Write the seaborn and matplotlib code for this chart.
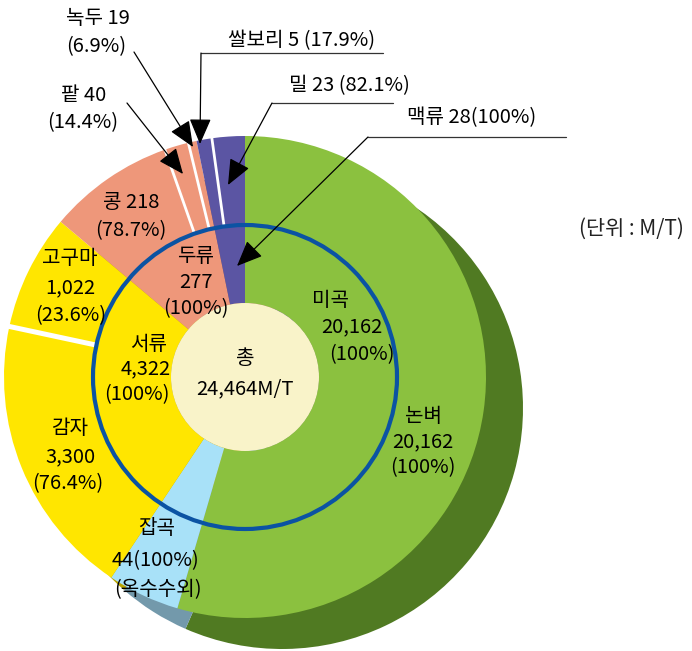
import numpy as np
import matplotlib
matplotlib.use("Agg")
import matplotlib.pyplot as plt
import seaborn as sns
from matplotlib.patches import Circle

# ---------------- data ----------------
# inner ring groups, clockwise from 12 o'clock
group_names = ["미곡", "잡곡", "서류", "두류", "맥류"]
group_values = [20162, 44, 4322, 277, 28]
group_pct = [100, 100, 100, 100, 100]
total_value = 24464

# outer ring items
sub_names = ["논벼", "잡곡", "감자", "고구마", "콩", "팥", "녹두", "쌀보리", "밀"]
sub_values = [20162, 44, 3300, 1022, 218, 40, 19, 5, 23]
sub_pct = [100, 100, 76.4, 23.6, 78.7, 14.4, 6.9, 17.9, 82.1]
sub_group = [0, 1, 2, 2, 3, 3, 3, 4, 4]
# angular width (deg) of every outer segment as drawn in the picture
sub_angle = [196.3, 17.4, 68.4, 28.0, 30.5, 5.8, 2.0, 3.7, 7.9]

group_angle = [sum(a for a, g in zip(sub_angle, sub_group) if g == i)
               for i in range(len(group_names))]

# ---------------- style ----------------
group_colors = ["#8BC13F", "#A8E1F8", "#FFE600", "#EE977A", "#5B55A3"]
shadow_colors = ["#507A22", "#7399AB", "#B8A300", "#A86A55", "#3E3A75"]
ring_blue = "#0B53A3"
cream = "#F9F3C9"

sns.set_theme(style="white")
plt.rcParams["font.family"] = ["Noto Sans CJK KR", "DejaVu Sans"]

W, H = 692, 651
fig = plt.figure(figsize=(W / 100, H / 100), dpi=100)
ax = fig.add_axes([0, 0, 1, 1])

cx, cy = 245, 377
R_out, R_mid, R_in = 241, 152, 74
shadow_dx, shadow_dy, shadow_twist = 37, 31, 7.3

# 3D side (shadow)
ax.pie(group_angle, colors=shadow_colors, radius=R_out,
       center=(cx + shadow_dx, cy + shadow_dy), startangle=-90 + shadow_twist,
       counterclock=True, frame=True, wedgeprops=dict(linewidth=0))
pie_kw = dict(startangle=-90, counterclock=True, frame=True)
# outer ring
ax.pie(sub_angle, colors=[group_colors[g] for g in sub_group], radius=R_out,
       center=(cx, cy), wedgeprops=dict(width=R_out - R_mid, linewidth=0), **pie_kw)
# inner ring
ax.pie(group_angle, colors=group_colors, radius=R_mid, center=(cx, cy),
       wedgeprops=dict(width=R_mid - R_in, linewidth=0), **pie_kw)

# white separators between items of the same group
cum = np.cumsum(sub_angle)
for i in range(len(sub_angle) - 1):
    if sub_group[i] == sub_group[i + 1]:
        th = np.deg2rad(cum[i])
        lw = 3.6 if sub_group[i] == 2 else 2.0
        ax.plot([cx + R_mid * np.sin(th), cx + (R_out + 1) * np.sin(th)],
                [cy - R_mid * np.cos(th), cy - (R_out + 1) * np.cos(th)],
                color="white", lw=lw, solid_capstyle="butt", zorder=3)

ax.add_patch(Circle((cx, cy), R_mid, fill=False, ec=ring_blue, lw=3.0, zorder=4))
ax.add_patch(Circle((cx, cy), R_in, fc=cream, ec="none", zorder=4))

FS = 14.5
def put(lines, xs, ys, fs=FS, **kw):
    for t, x, y in zip(lines, xs, ys):
        ax.text(x, y, t, ha="center", va="center", fontsize=fs, color="black",
                zorder=6, **kw)

def pct(p):
    return f"{p:g}%"

# center
put(["총", f"{total_value:,}M/T"], [245, 245], [359, 389])
# inner ring labels
put([group_names[0], f"{group_values[0]:,}", f"({pct(group_pct[0])})"],
    [330, 352, 362], [300, 327, 355])
put([group_names[2], f"{group_values[2]:,}", f"({pct(group_pct[2])})"],
    [149, 146, 137], [345, 369, 395])
put([group_names[3], f"{group_values[3]:,}", f"({pct(group_pct[3])})"],
    [196, 196, 196], [257, 283, 309])
# outer ring labels
put([sub_names[0], f"{sub_values[0]:,}", f"({pct(sub_pct[0])})"],
    [423, 423, 423], [416, 442, 468])
put([sub_names[2], f"{sub_values[2]:,}", f"({pct(sub_pct[2])})"],
    [70, 70, 68], [429, 457, 484])
put([sub_names[3], f"{sub_values[3]:,}", f"({pct(sub_pct[3])})"],
    [70, 70, 71], [259, 288, 316])
put([f"{sub_names[4]} {sub_values[4]}", f"({pct(sub_pct[4])})"],
    [131, 131], [203, 231])
put([group_names[1], f"{group_values[1]}({pct(group_pct[1])})", "(옥수수외)"],
    [157, 156, 158], [528, 561, 590])

# callout labels
put([f"{sub_names[6]} {sub_values[6]}", f"({pct(sub_pct[6])})"], [98, 96], [18, 47])
put([f"{sub_names[5]} {sub_values[5]}", f"({pct(sub_pct[5])})"], [84, 83], [95, 123])
put([f"{sub_names[7]} {sub_values[7]} ({pct(sub_pct[7])})"], [302], [41])
put([f"{sub_names[8]} {sub_values[8]} ({pct(sub_pct[8])})"], [349], [86])
put([f"{group_names[4]} {group_values[4]}({pct(group_pct[4])})"], [472], [118])
ax.text(631, 229, "(단위 : M/T)", ha="center", va="center", fontsize=15,
        color="#222222", zorder=6)

# leader lines
line_kw = dict(color="#333333", lw=0.9, zorder=5)
ax.plot([201, 383], [53, 53], **line_kw)
ax.plot([272, 393], [103, 103], **line_kw)
ax.plot([368, 566], [137, 137], **line_kw)

arrow = dict(arrowstyle="-|>,head_length=0.8,head_width=0.34", color="black",
             lw=0.9, shrinkA=0, shrinkB=0, mutation_scale=20)
for start, tip in [((134, 52), (193, 147)), ((127, 103), (183, 174)),
                   ((201, 53), (200, 144)), ((272, 103), (228, 185)),
                   ((368, 137), (237, 266))]:
    ax.annotate("", xy=tip, xytext=start, arrowprops=arrow, zorder=7)

ax.set_xlim(0, W)
ax.set_ylim(H, 0)
ax.set_aspect("equal")
ax.axis("off")
fig.savefig("out.png", dpi=100, facecolor="white")
